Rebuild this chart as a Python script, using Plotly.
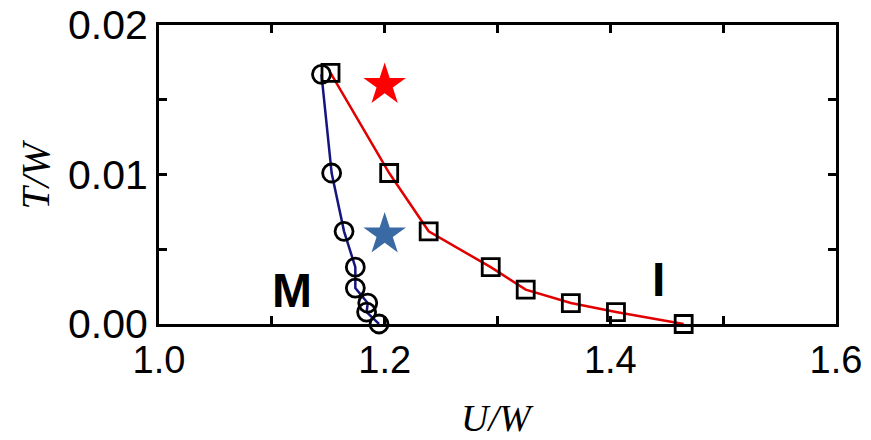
import plotly.graph_objects as go

# Metal (M) boundary: circles
U_M = [1.144, 1.153, 1.164, 1.174, 1.174, 1.185, 1.184, 1.195]
T_M = [0.0167, 0.0101, 0.0062, 0.0038, 0.0024, 0.0014, 0.0008, 0.0]
# Insulator (I) boundary: squares
U_I = [1.152, 1.204, 1.239, 1.294, 1.325, 1.365, 1.405, 1.465]
T_I = [0.0168, 0.0101, 0.0062, 0.0038, 0.0023, 0.0014, 0.0008, 0.0]
# Stars
U_star = [1.2, 1.2]
T_star = [0.016, 0.006]
star_colors = ["#ff0000", "#3a6aa3"]

x_tickvals = [1.0, 1.1, 1.2, 1.3, 1.4, 1.5, 1.6]
x_ticktext = ["1.0", "", "1.2", "", "1.4", "", "1.6"]
y_tickvals = [0.0, 0.005, 0.01, 0.015, 0.02]
y_ticktext = ["0.00", "", "0.01", "", "0.02"]

fig = go.Figure()
fig.add_trace(go.Scatter(x=U_M, y=T_M, mode="lines", line=dict(color="#15157f", width=2.5),
                         showlegend=False, cliponaxis=False))
fig.add_trace(go.Scatter(x=U_I, y=T_I, mode="lines", line=dict(color="#e00000", width=2.5),
                         showlegend=False, cliponaxis=False))
fig.add_trace(go.Scatter(x=U_M, y=T_M, mode="markers",
                         marker=dict(symbol="circle-open", size=18, color="black", line=dict(width=2.8)),
                         showlegend=False, cliponaxis=False))
fig.add_trace(go.Scatter(x=U_I, y=T_I, mode="markers",
                         marker=dict(symbol="square-open", size=17, color="black", line=dict(width=2.8)),
                         showlegend=False, cliponaxis=False))
fig.add_trace(go.Scatter(x=U_star, y=T_star, mode="markers",
                         marker=dict(symbol="star", size=32, color=star_colors, line=dict(width=0)),
                         showlegend=False, cliponaxis=False))

axis_common = dict(showgrid=False, zeroline=False, showline=True, linecolor="black", linewidth=3,
                   mirror="ticks", ticks="inside", ticklen=8, tickwidth=2.5, tickcolor="black",
                   automargin=False, ticklabeloverflow="allow")

fig.update_xaxes(range=[1.0, 1.6], tickvals=x_tickvals, ticktext=x_ticktext,
                 tickfont=dict(family="Liberation Sans, Arial", size=38, color="black"),
                 **axis_common)
fig.update_yaxes(range=[0, 0.02], tickvals=y_tickvals, ticktext=y_ticktext,
                 tickfont=dict(family="Liberation Sans, Arial", size=41, color="black"),
                 **axis_common)

fig.add_annotation(text="<i>U/W</i>", xref="paper", yref="paper", x=0.50, y=-0.314,
                   showarrow=False, font=dict(family="Liberation Serif, Times New Roman", size=38, color="black"),
                   xanchor="center", yanchor="middle")
fig.add_annotation(text="<i>T/W</i>", xref="paper", yref="paper", x=-0.183, y=0.50, textangle=-90,
                   showarrow=False, font=dict(family="Liberation Serif, Times New Roman", size=40, color="black"),
                   xanchor="center", yanchor="middle")
fig.add_annotation(text="<b>M</b>", x=1.118, y=0.00227, showarrow=False,
                   font=dict(family="Liberation Sans, Arial", size=48, color="black"))
fig.add_annotation(text="<b>I</b>", x=1.443, y=0.0030, showarrow=False,
                   font=dict(family="Liberation Sans, Arial", size=48, color="black"))

fig.update_layout(width=871, height=440, margin=dict(l=159, r=35, t=25, b=116),
                  plot_bgcolor="white", paper_bgcolor="white")

# Remove the default 8px page margin so the figure fills the 871x440 window exactly.
fig.write_html("out.html", config={"displayModeBar": False},
               post_script="document.body.style.margin='0px';")
